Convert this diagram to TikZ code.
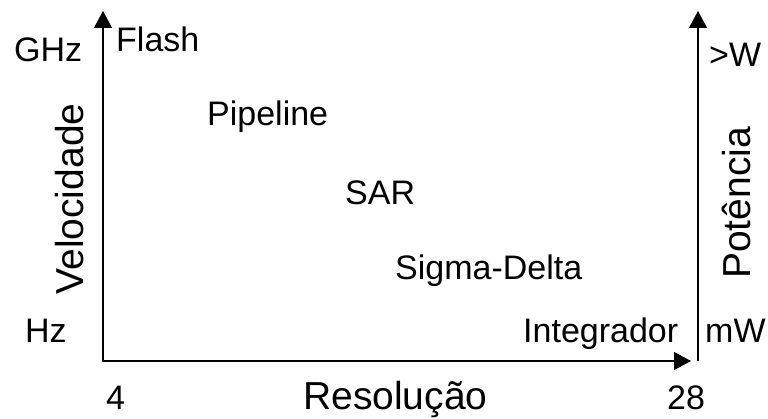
\documentclass[tikz,border=0pt]{standalone}
\usepackage{fontspec}
\setmainfont{Liberation Sans}
\usetikzlibrary{arrows.meta}
\tikzset{
  axis/.style={line width=1.3pt,-{Triangle[length=17pt,width=18pt]}},
  lbl/.style={anchor=base west,inner sep=0pt,font=\fontsize{34}{40}\selectfont},
  ttl/.style={anchor=base,inner sep=0pt,font=\fontsize{39}{46}\selectfont}
}

\begin{document}
\begin{tikzpicture}[x=1pt,y=-1pt]
  \useasboundingbox (0,0) rectangle (768,419);
  % axes
  \coordinate (o) at (103,361);
  \coordinate (ytop) at (103,11);
  \coordinate (xend) at (691,361);
  \coordinate (rbot) at (698,361);
  \coordinate (rtop) at (698,11);
  \draw[axis] (o) -- (ytop);
  \draw[axis] ([xshift=-0.65pt]o) -- (xend);
  \draw[axis] (rbot) -- (rtop);
  % scale labels
  \node[lbl] (ghz) at (14,62) {GHz};
  \node[lbl] (hz) at (25,342) {Hz};
  \node[lbl] (gw) at (709,67) {>W};
  \node[lbl] (mw) at (705,343) {mW};
  \node[lbl] (res4) at (106,409) {4};
  \node[lbl] (res28) at (667,409) {28};
  % converters
  \node[lbl] (flash) at (116,52) {Flash};
  \node[lbl] (pipe) at (207,126) {Pipeline};
  \node[lbl] (sar) at (345,205) {SAR};
  \node[lbl] (sd) at (395,280) {Sigma-Delta};
  \node[lbl] (integ) at (523,343) {Integrador};
  % axis titles
  \node[ttl] (vel) at (83,199) [rotate=90] {Velocidade};
  \node[ttl] (pot) at (750,203) [rotate=90] {Potência};
  \node[ttl,anchor=base west] (resol) at (303,409) {Resolução};
\end{tikzpicture}
\end{document}
